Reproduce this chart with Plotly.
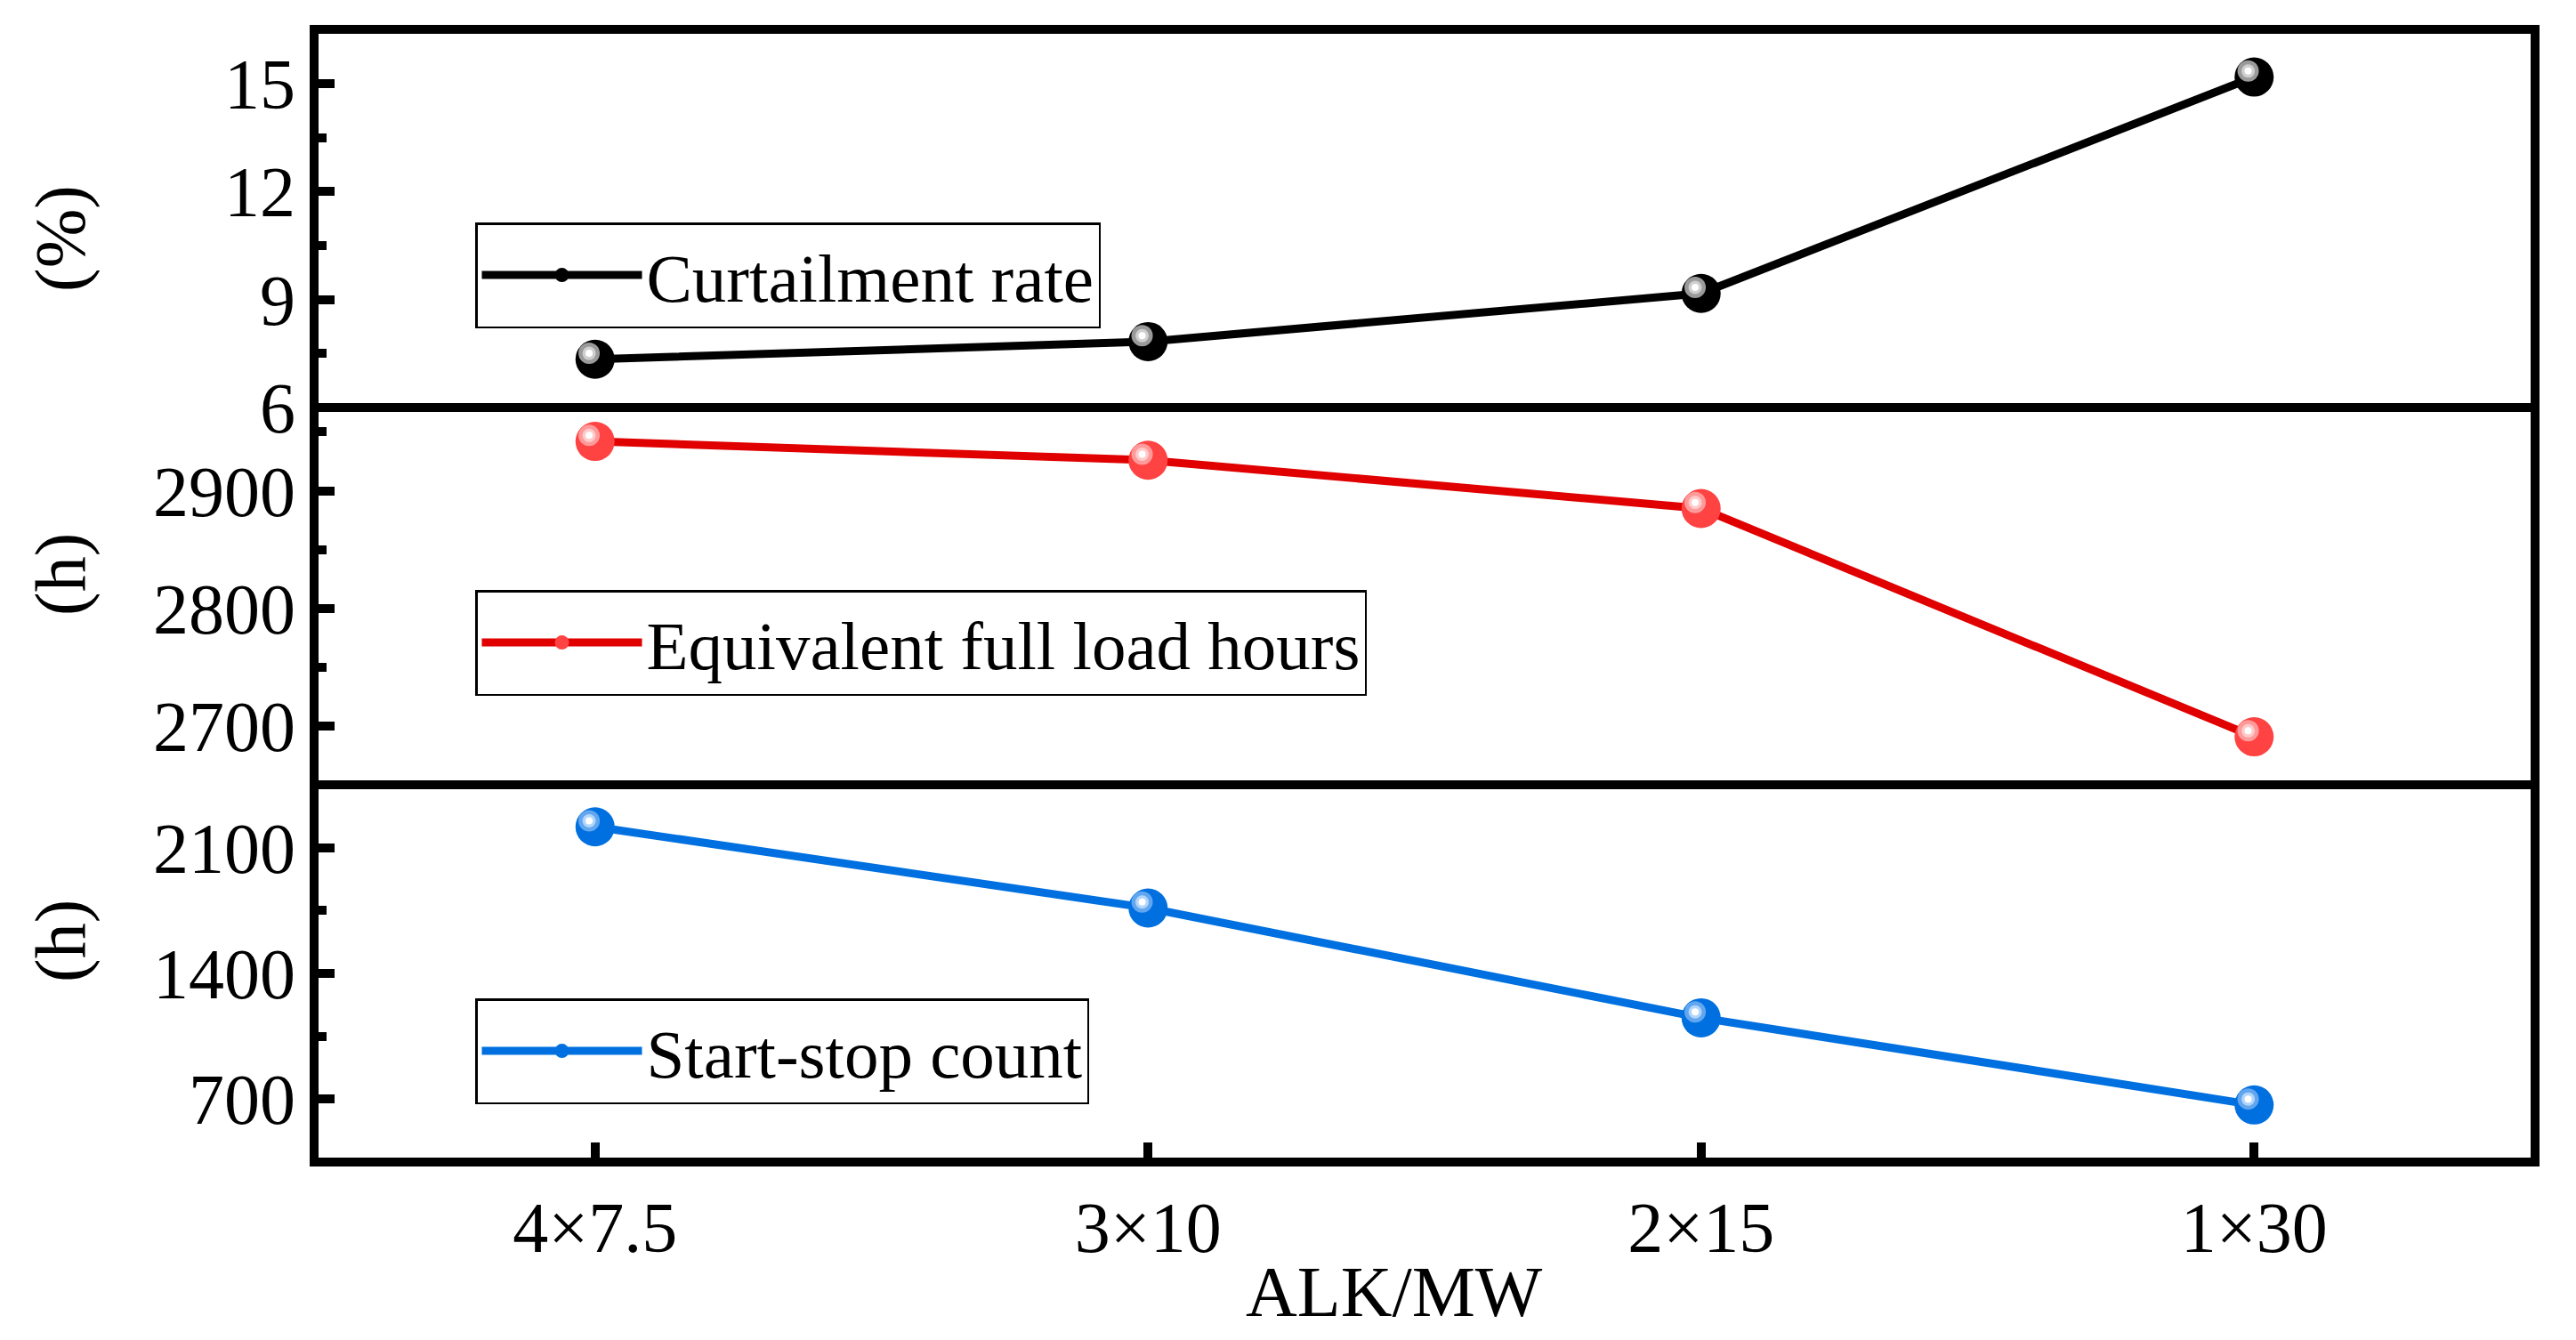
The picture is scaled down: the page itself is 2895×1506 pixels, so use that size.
import plotly.graph_objects as go

# ---------------- data ----------------
categories = ["4×7.5", "3×10", "2×15", "1×30"]
curtailment_rate = [7.34, 7.83, 9.17, 15.18]      # %
full_load_hours = [2942, 2926, 2885, 2691]        # h
start_stop_count = [2216, 1764, 1153, 668]        # count

series_names = ["Curtailment rate", "Equivalent full load hours", "Start-stop count"]
y_titles = ["(%)", "(h)", "(h)"]
x_title = "ALK/MW"

# ---------------- layout geometry ----------------
W, H = 2895, 1506
ML, MR, MT, MB = 358, 51, 38, 205
PW = W - ML - MR
PH = H - MT - MB


def py(px):
    """pixel row (from top) -> paper y"""
    return (H - MB - px) / PH


def pxx(px):
    """pixel column -> paper x"""
    return (px - ML) / PW


FONT = "Liberation Serif"
TICK_SIZE = 80
LEG_SIZE = 77

panels = [
    dict(y=curtailment_rate, name=series_names[0], title=y_titles[0],
         domain=[py(458), py(38)], yrange=[6, 16.38], dtick=3, minor=1.5,
         line="#000000", marker="#000000",
         hl=["#9a9a9a", "#cfcfcf", "#ffffff"],
         leg_top=250, title_y=268),
    dict(y=full_load_hours, name=series_names[1], title=y_titles[1],
         domain=[py(877), py(463)], yrange=[2654, 2967], dtick=100, minor=50,
         line="#e00000", marker="#ff4242",
         hl=["#ff9a9a", "#ffcaca", "#ffffff"],
         leg_top=663, title_y=646),
    dict(y=start_stop_count, name=series_names[2], title=y_titles[2],
         domain=[py(1301), py(887)], yrange=[375, 2425], dtick=700, minor=350,
         line="#0070e0", marker="#0070e0",
         hl=["#62a6f0", "#b2d6fa", "#ffffff"],
         leg_top=1122, title_y=1058),
]

xrange = [-0.5, 3.5]
HL_DX, HL_DY = 6.7, 6.7   # highlight offset (px) up-left
hl_sizes = [24, 15, 8]

fig = go.Figure()
layout = dict(
    width=W, height=H,
    margin=dict(l=ML, r=MR, t=MT, b=MB),
    paper_bgcolor="white", plot_bgcolor="rgba(0,0,0,0)",
    font=dict(family=FONT, size=TICK_SIZE, color="black"),
    showlegend=True,
)
annotations = []

for i, p in enumerate(panels):
    n = i + 1
    xa = "x" if n == 1 else f"x{n}"
    ya = "y" if n == 1 else f"y{n}"
    xo = f"x{n + 3}"
    yo = f"y{n + 3}"
    leg = "legend" if n == 1 else f"legend{n}"

    # main line + balls
    fig.add_trace(go.Scatter(
        x=categories, y=p["y"], mode="lines+markers", name=p["name"],
        xaxis=xa, yaxis=ya, legend=leg, showlegend=True,
        line=dict(color=p["line"], width=9),
        marker=dict(color=p["marker"], size=44, line=dict(width=0)),
        cliponaxis=False,
    ))
    # specular highlights on an overlay axis pair shifted by a few pixels
    for s, c in zip(hl_sizes, p["hl"]):
        fig.add_trace(go.Scatter(
            x=categories, y=p["y"], mode="markers", showlegend=False,
            xaxis=xo, yaxis=yo, hoverinfo="skip",
            marker=dict(color=c, size=s, line=dict(width=0)),
            cliponaxis=False,
        ))

    bottom = (n == 3)
    ux = (xrange[1] - xrange[0]) / PW
    dom_px = (p["domain"][1] - p["domain"][0]) * PH
    uy = (p["yrange"][1] - p["yrange"][0]) / dom_px

    xdef = dict(
        anchor=ya, domain=[0, 1], type="category",
        categoryorder="array", categoryarray=categories,
        range=xrange, showline=True, mirror=True, linecolor="black", linewidth=10,
        showgrid=False, zeroline=False,
        ticks="inside" if bottom else "", ticklen=17, tickwidth=10, tickcolor="black",
        showticklabels=bottom, tickfont=dict(family=FONT, size=TICK_SIZE),
    )
    if n == 1:
        # top frame only; the boundary with the middle panel is drawn by panel 2
        xdef.update(mirror=False, side="top")
    layout[f"xaxis{'' if n == 1 else n}"] = xdef
    layout[f"yaxis{'' if n == 1 else n}"] = dict(
        anchor=xa, domain=p["domain"], range=p["yrange"],
        showline=True, mirror=True, linecolor="black", linewidth=10,
        showgrid=False, zeroline=False,
        ticks="inside", ticklen=18, tickwidth=10, tickcolor="black",
        tick0=0, dtick=p["dtick"],
        minor=dict(ticks="inside", ticklen=9, tickwidth=10, tickcolor="black",
                   tick0=0, dtick=p["minor"], showgrid=False),
        tickfont=dict(family=FONT, size=TICK_SIZE),
    )
    layout[f"xaxis{n + 3}"] = dict(
        overlaying=xa, anchor=ya, type="category",
        categoryorder="array", categoryarray=categories,
        range=[xrange[0] + HL_DX * ux, xrange[1] + HL_DX * ux], visible=False,
    )
    layout[f"yaxis{n + 3}"] = dict(
        overlaying=ya, anchor=xa,
        range=[p["yrange"][0] - HL_DY * uy, p["yrange"][1] - HL_DY * uy], visible=False,
    )
    layout[leg] = dict(
        x=pxx(534), y=py(p["leg_top"]), xanchor="left", yanchor="top",
        xref="paper", yref="paper",
        bgcolor="white", bordercolor="black", borderwidth=2.5,
        font=dict(family=FONT, size=LEG_SIZE, color="black"),
        itemwidth=180,
    )
    annotations.append(dict(
        text=p["title"], xref="paper", yref="paper", x=pxx(68), y=py(p["title_y"]),
        xanchor="center", yanchor="middle", textangle=-90, showarrow=False,
        font=dict(family=FONT, size=TICK_SIZE, color="black"),
    ))

annotations.append(dict(
    text=x_title, xref="paper", yref="paper", x=pxx(1567), y=py(1452),
    xanchor="center", yanchor="middle", showarrow=False,
    font=dict(family=FONT, size=TICK_SIZE, color="black"),
))
layout["annotations"] = annotations
fig.update_layout(**layout)

fig.write_html("out.html")
